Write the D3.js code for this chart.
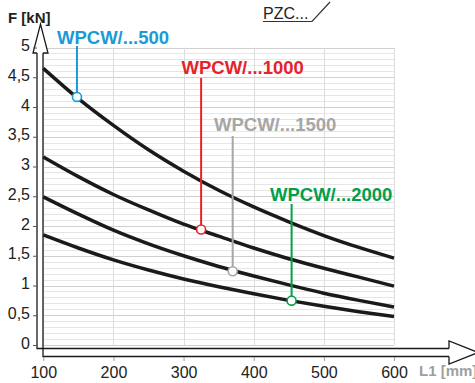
<!DOCTYPE html>
<html><head><meta charset="utf-8">
<script src="https://cdn.jsdelivr.net/npm/d3@7/dist/d3.min.js"></script>
<style>
html,body{margin:0;padding:0;background:#fff;}
svg{display:block;font-family:"Liberation Sans",Arial,sans-serif;}
</style></head>
<body><svg id="c" width="475" height="383"></svg>
<script>
// ---- data ----
const L1 = [100,150,200,250,300,350,400,450,500,550,600];
const seriesNames = ["WPCW/...500","WPCW/...1000","WPCW/...1500","WPCW/...2000"];
const f500  = [4.65,4.14,3.69,3.28,2.92,2.60,2.32,2.07,1.84,1.64,1.46];
const f1000 = [3.16,2.83,2.53,2.27,2.03,1.83,1.63,1.45,1.29,1.14,0.99];
const f1500 = [2.49,2.20,1.93,1.70,1.50,1.32,1.16,1.01,0.87,0.75,0.64];
const f2000 = [1.85,1.63,1.43,1.26,1.11,0.98,0.86,0.75,0.65,0.56,0.48];
const markerL = [148,325,370,454];
const markerF = [4.17,1.94,1.24,0.745];
const seriesColors = ["#1b9ad6","#e52329","#a6a6a6","#00a04b"];
const xTicks = [100,200,300,400,500,600];
const yTicks = [0,0.5,1,1.5,2,2.5,3,3.5,4,4.5,5];
const yLabels = ["0","0,5","1","1,5","2","2,5","3","3,5","4","4,5","5"];

const svg = d3.select("#c");
const x = d3.scaleLinear().domain([100,600]).range([43.3,394]);
const y = d3.scaleLinear().domain([0,5]).range([345,47.5]);

// ---- grid ----
const grid = svg.append("g");
const minor = d3.range(0,51).map(i=>i/10);
grid.selectAll("line.h").data(minor).join("line")
  .attr("x1",x(100)).attr("x2",x(600))
  .attr("y1",d=>Math.round(y(d))+0.5).attr("y2",d=>Math.round(y(d))+0.5)
  .attr("stroke",(d,i)=> i%5===0 ? "#cfcfcf" : "#e6e6e6").attr("stroke-width",1);
grid.selectAll("line.v").data(xTicks).join("line")
  .attr("x1",d=>Math.round(x(d))+0.5).attr("x2",d=>Math.round(x(d))+0.5)
  .attr("y1",y(5)).attr("y2",y(0))
  .attr("stroke","#dcdcdc").attr("stroke-width",1);

// ---- curves ----
const all = [f500,f1000,f1500,f2000];
const line = d3.line().x((d,i)=>x(L1[i])).y(d=>y(d)).curve(d3.curveMonotoneX);
svg.append("g").selectAll("path").data(all).join("path")
  .attr("d",line).attr("fill","none").attr("stroke","#1a1a1a")
  .attr("stroke-width",3.5).attr("stroke-linecap","butt");

// ---- callouts ----
const labelPos = [[57,43.5],[181.5,73.5],[214,131],[270,200.5]];
const lineTop = [46,78,136,204];
seriesNames.forEach((name,i)=>{
  const g = svg.append("g");
  g.append("line").attr("x1",x(markerL[i])).attr("x2",x(markerL[i]))
    .attr("y1",lineTop[i]).attr("y2",y(markerF[i]))
    .attr("stroke",seriesColors[i]).attr("stroke-width",2);
  g.append("circle").attr("cx",x(markerL[i])).attr("cy",y(markerF[i])).attr("r",4.5)
    .attr("fill","#fff").attr("stroke",seriesColors[i]).attr("stroke-width",1.6);
  g.append("text").attr("x",labelPos[i][0]).attr("y",labelPos[i][1])
    .attr("fill",seriesColors[i]).attr("font-weight","bold").attr("font-size","18.5px")
    .text(name);
});

// ---- arrows (axes bodies) ----
const ax = svg.append("g").attr("fill","none").attr("stroke","#1a1a1a").attr("stroke-width",1.3);
// y arrow head
ax.append("path").attr("fill","#fff").attr("d","M37,53 L33,53 L40.5,24 L48,53 L43,53");
ax.append("path").attr("d","M37,53 L37,348.5 L449,348.5");
ax.append("path").attr("d","M43,53 L43,356.5 L449,356.5");
ax.append("path").attr("fill","#fff").attr("d","M449,348.5 L449,341 L478,352.5 L449,364 L449,356.5");

// ---- axes (ticks + labels) ----
const yAxis = d3.axisLeft(y).tickValues(yTicks).tickSize(4).tickPadding(3)
  .tickFormat((d,i)=>yLabels[i]);
const gy = svg.append("g").attr("transform","translate(37,0)").call(yAxis);
gy.select(".domain").remove();
gy.selectAll(".tick line").attr("stroke","#555");
gy.selectAll(".tick text").attr("font-size","16px").attr("fill","#222")
  .attr("font-family","Liberation Sans, Arial, sans-serif").attr("dy","0.2em");

const xAxis = d3.axisBottom(x).tickValues(xTicks).tickSize(4).tickPadding(6);
const gx = svg.append("g").attr("transform","translate(0,357)").call(xAxis);
gx.select(".domain").remove();
gx.selectAll(".tick line").attr("stroke","#999");
gx.selectAll(".tick text").attr("font-size","16px").attr("fill","#222")
  .attr("font-family","Liberation Sans, Arial, sans-serif");

// ---- axis titles ----
svg.append("text").attr("x",8).attr("y",23).attr("font-weight","bold")
  .attr("font-size","15px").attr("fill","#222").text("F [kN]");
svg.append("text").attr("x",419).attr("y",376).attr("font-weight","bold")
  .attr("font-size","15px").attr("fill","#a0a0a0").text("L1 [mm]");

// ---- PZC label ----
svg.append("text").attr("x",263).attr("y",18.5).attr("font-size","16px")
  .attr("fill","#222").text("PZC...");
svg.append("path").attr("d","M263,21.5 L312,21.5 L330,2").attr("fill","none")
  .attr("stroke","#333").attr("stroke-width",1.2);
</script></body></html>
